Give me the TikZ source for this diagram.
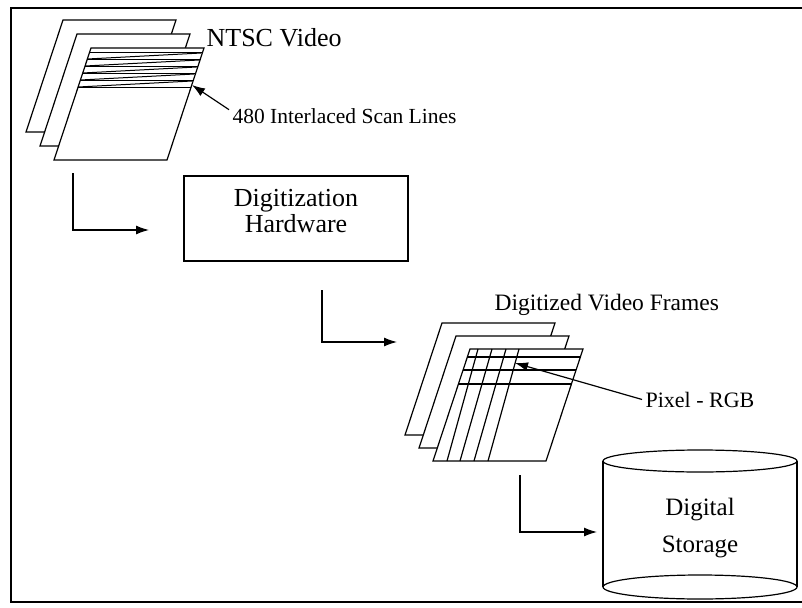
\documentclass[tikz,border=0pt]{standalone}
\usepackage{fontspec}
\setmainfont{Liberation Serif}
\usepackage{tikz}
\usetikzlibrary{arrows.meta}

\begin{document}
\begin{tikzpicture}[x=1pt,y=-1pt,line width=1.2pt,
    flow/.style={-{Latex[length=13pt,width=9pt]}},
    frm/.style={fill=white,line join=miter},
    lbl/.style={anchor=base west,inner sep=3pt}]
    \useasboundingbox (0,0) rectangle (802,607);
    \draw(802,8)--(11,8)--(11,602)--(802,602);
    % NTSC video frames
    \foreach \x/\y in {63/20,77/34,91/48}
        \draw[frm](\x,\y)--++(113,0)--++(-37,112)--++(-113,0)--cycle;
    \foreach \y in {53,60,67,74,81,88}
        \draw[line width=1pt]({91-0.33*(\y-48)},\y)--({204-0.33*(\y-48)},\y);
    \foreach \y in {53,60,67,74,81}
        \draw[line width=1pt]({91-0.33*(\y+6-48)},\y+6)--({203-0.33*(\y-48)},\y);
    \node[lbl,font=\fontsize{26}{28}\selectfont](ntsc) at (203,47){NTSC Video};
    \node[lbl,font=\fontsize{21.5}{24}\selectfont](scan) at (229,123){480 Interlaced Scan Lines};
    \coordinate(sc) at (192,85);
    \draw[flow]([yshift=6pt]scan.west)--(sc);
    % digitizer
    \node[draw,minimum width=224pt,minimum height=85pt](hw) at (296,218.5){};
    \node[align=center,font=\fontsize{26}{26}\selectfont,yshift=7pt](hwtext) at (hw.center){Digitization\\Hardware};
    \coordinate(a1) at (73,173);
    \coordinate(b1) at (149,230);
    \draw[flow](a1)|-(b1);
    \coordinate(a2) at (322,290);
    \coordinate(b2) at (397,342);
    \draw[flow](a2)|-(b2);
    % digitized frames
    \node[lbl,font=\fontsize{23.5}{26}\selectfont](dvf) at (491,310){Digitized Video Frames};
    \foreach \x/\y in {442/323,456/336,470/349}
        \draw[frm](\x,\y)--++(113,0)--++(-37,112)--++(-113,0)--cycle;
    \foreach \y in {357,370,384}
        \draw({470-0.33*(\y-349)},\y)--({583-0.33*(\y-349)},\y);
    \foreach \t/\b in {478/447,492/460,506/474,519/488}
        \draw(\t,349)--(\b,461);
    \node[lbl,font=\fontsize{22}{24}\selectfont](pix) at (642,407){Pixel - RGB};
    \coordinate(px) at (515,363);
    \draw[flow](pix.west)--(px);
    % storage
    \coordinate(a3) at (520,475);
    \coordinate(b3) at (597,532);
    \draw[flow](a3)|-(b3);
    \fill[white](603,461)rectangle(797,587);
    \fill[white](700,587)ellipse[x radius=97,y radius=12];
    \draw(603,461)--(603,587) (797,461)--(797,587);
    \draw(700,461)ellipse[x radius=97,y radius=11];
    \draw(700,587)ellipse[x radius=97,y radius=12];
    \node[align=center,font=\fontsize{25}{37}\selectfont](store) at (700,528){Digital\\Storage};
\end{tikzpicture}
\end{document}
